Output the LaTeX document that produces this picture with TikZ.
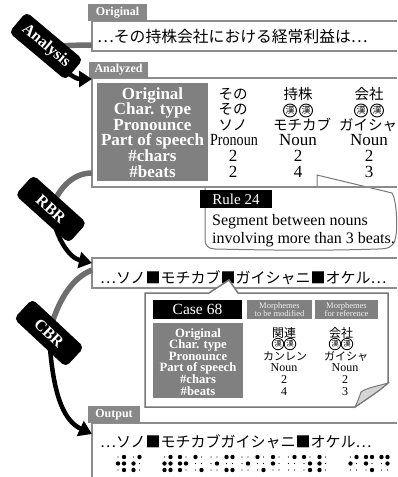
\documentclass[tikz,border=0pt]{standalone}
\usepackage{fontspec}
\setmainfont{Liberation Serif}
\newfontfamily\jpfont{Noto Sans CJK JP}
\usetikzlibrary{arrows.meta}
\definecolor{tabgray}{RGB}{136,136,136}
\definecolor{framegray}{RGB}{140,140,140}
\definecolor{hdrgray}{RGB}{128,128,128}
\definecolor{arcgray}{RGB}{110,110,110}
\definecolor{flapgray}{RGB}{212,212,212}
\definecolor{linegray}{RGB}{120,120,120}
\newcommand\brdot[3]{\ifnum#3=1 \fill[black] (#1,#2) circle (2.2pt);\else\fill[black] (#1,#2) circle (0.7pt);\fi}
\newcommand\brcell[7]{%
  \brdot{118+#1*15.5}{457}{#2}\brdot{118+#1*15.5}{463.5}{#3}\brdot{118+#1*15.5}{470}{#4}%
  \brdot{124+#1*15.5}{457}{#5}\brdot{124+#1*15.5}{463.5}{#6}\brdot{124+#1*15.5}{470}{#7}}
\begin{document}
\begin{tikzpicture}[x=1pt,y=-1pt,
  tab/.style={fill=tabgray,text=white,font=\bfseries\fontsize{12}{12}\selectfont,inner sep=0},
  boxline/.style={draw=framegray,line width=2pt},
  jpline/.style={font=\jpfont\fontsize{15}{15}\selectfont,inner sep=0,anchor=base west},
  hdrA/.style={text=white,font=\bfseries\fontsize{17}{17}\selectfont,inner sep=0,anchor=base},
  valA/.style={font=\fontsize{17}{17}\selectfont,inner sep=0,anchor=base},
  jpA/.style={font=\jpfont\fontsize{14.5}{14.5}\selectfont,inner sep=0,anchor=base},
  kanA/.style={circle,draw,line width=0.9pt,inner sep=0,minimum size=13,font=\jpfont\fontsize{9}{9}\selectfont},
  hdrB/.style={text=white,font=\bfseries\fontsize{12.7}{12.7}\selectfont,inner sep=0,anchor=base},
  valB/.style={font=\fontsize{12}{12}\selectfont,inner sep=0,anchor=base},
  jpB/.style={font=\jpfont\fontsize{12}{12}\selectfont,inner sep=0,anchor=base},
  kataB/.style={font=\jpfont\fontsize{11}{11}\selectfont,inner sep=0,anchor=base},
  kanB/.style={circle,draw,line width=0.8pt,inner sep=0,minimum size=11.5,font=\jpfont\fontsize{7.5}{7.5}\selectfont},
  mhead/.style={fill=hdrgray,text=white!88!gray,font=\fontsize{8.5}{8.5}\selectfont,align=center,inner sep=0,minimum height=19},
  tag/.style={fill=black,text=white,rounded corners=5pt,font=\bfseries\fontsize{16}{16}\selectfont,inner sep=0,minimum height=27},
  gray arc/.style={draw=arcgray,line width=5.5pt},
  black arc/.style={draw=black,line width=4.5pt,-{Triangle[length=13pt,width=16pt]}},
  bubble/.style={draw=linegray,line width=1pt,fill=white},
  bubbleB/.style={draw=linegray,line width=1.5pt,fill=white},
  ]
\useasboundingbox (0,0) rectangle (397,477);
\fill[white] (0,0) rectangle (397,477);

% connection points
\coordinate (oL) at (92,45);
\coordinate (aL) at (92,173);
\coordinate (sL) at (92,270);
\coordinate (aIn) at (92,79);
\coordinate (sIn) at (92,263);
\coordinate (outIn) at (92,434);
\coordinate (tA) at (46,46);
\coordinate (tR) at (51,209);
\coordinate (tC) at (49,333);

% frames
\draw[boxline] (397,21) -- (92,21) -- (92,51) -- (397,51);
\draw[boxline] (397,78) -- (92,78) -- (92,187) -- (397,187);
\draw[boxline] (397,258) -- (92,258) -- (92,288) -- (397,288);
\draw[boxline] (397,423) -- (92,423) -- (92,477);

% tabs
\node[tab,minimum width=59,minimum height=17] (tabO) at (117.5,12.5) {Original};
\node[tab,minimum width=59,minimum height=16] (tabA) at (118.5,70) {Analyzed};
\node[tab,minimum width=52,minimum height=17] (tabOut) at (114,414.5) {Output};

% text lines
\node[jpline,font=\jpfont\fontsize{15.8}{15.8}\selectfont] (orig) at (97,42.5) {…その持株会社における経常利益は…};
\node[jpline] (seg) at (100,283.5) {…ソノ■モチカブ■ガイシャニ■オケル…};
\node[jpline] (outtext) at (100,447) {…ソノ■モチカブガイシャニ■オケル…};

% analyzed table
\fill[hdrgray] (97,83) rectangle (208,181);
\foreach \t [count=\i] in {Original,Char. type,Pronounce,Part of speech,\#chars,\#beats}
  \node[hdrA] (ha\i) at (152.5,{99+(\i-1)*15.6}) {\t};
\node[jpA] (a11) at (233,99) {その};
\node[jpA] (a12) at (233,114.6) {その};
\node[jpA] (a13) at (233,130.2) {ソノ};
\node[valA] (a14) at (234,145.8) {\scalebox{0.83}[1]{Pronoun}};
\node[valA] (a15) at (233,161.4) {2};
\node[valA] (a16) at (233,177) {2};
\node[jpA] (a21) at (298,99) {持株};
\node[kanA] (a22a) at (290,110.5) {漢};
\node[kanA] (a22b) at (306,110.5) {漢};
\node[jpA] (a23) at (302,130.2) {モチカブ};
\node[valA] (a24) at (298,145.8) {Noun};
\node[valA] (a25) at (298,161.4) {2};
\node[valA] (a26) at (298,177) {4};
\node[jpA] (a31) at (369,99) {会社};
\node[kanA] (a32a) at (361,110.5) {漢};
\node[kanA] (a32b) at (377,110.5) {漢};
\node[jpA] (a33) at (368,130.2) {ガイシャ};
\node[valA] (a34) at (369,145.8) {Noun};
\node[valA] (a35) at (369,161.4) {2};
\node[valA] (a36) at (369,177) {3};

% Rule 24 callout
\draw[bubble] (205,187) -- (317,187) -- (317,175) -- (392,193)
  .. controls (397,200) and (398,232) .. (395,240)
  .. controls (393,247) and (388,249) .. (378,249)
  .. controls (320,251) and (260,250) .. (215,249)
  .. controls (208,249) and (205,245) .. (205,240) -- cycle;
\draw[boxline] (92,187) -- (397,187);
\node[fill=black,text=white,font=\fontsize{15}{15}\selectfont,minimum width=72,minimum height=18,inner sep=0] (rule) at (236,199) {Rule 24};
\node[font=\fontsize{16}{16}\selectfont,inner sep=0,anchor=base west] (rt1) at (212,225) {Segment between nouns};
\node[font=\fontsize{16}{16}\selectfont,inner sep=0,anchor=base west] (rt2) at (212,243) {involving more than 3 beats.};

% Case 68 callout
\draw[bubbleB] (145,293) -- (209,293) -- (229,280) -- (238,293) -- (388,293) -- (388,383)
  .. controls (378,392) and (365,400) .. (355,407) -- (145,407) -- cycle;
\draw[draw=linegray,line width=1pt,fill=flapgray] (388,383)
  .. controls (378,386) and (366,388) .. (361,392)
  .. controls (359,398) and (357,403) .. (355,407)
  .. controls (365,400) and (378,392) .. (388,383) -- cycle;
\node[fill=black,text=white,font=\fontsize{15.5}{15.5}\selectfont,minimum width=89,minimum height=19,inner sep=0] (case) at (197.5,309.5) {Case 68};
\node[mhead,minimum width=65] (m1) at (279.5,309.5) {Morphemes\\to be modified};
\node[mhead,minimum width=63] (m2) at (346.5,309.5) {Morphemes\\for reference};
\fill[hdrgray] (153,323) rectangle (243,398);
\foreach \t [count=\i] in {Original,Char. type,Pronounce,Part of speech,\#chars,\#beats}
  \node[hdrB] (hb\i) at (198,{337+(\i-1)*11.6}) {\t};
\node[jpB] (b11) at (284,337) {関連};
\node[kanB] (b12a) at (278,344) {漢};
\node[kanB] (b12b) at (290,344) {漢};
\node[kataB] (b13) at (285,360.2) {カンレン};
\node[valB] (b14) at (284,371.8) {Noun};
\node[valB] (b15) at (284,383.4) {2};
\node[valB] (b16) at (284,395) {4};
\node[jpB] (b21) at (341,337) {会社};
\node[kanB] (b22a) at (335,344) {漢};
\node[kanB] (b22b) at (347,344) {漢};
\node[kataB] (b23) at (346,360.2) {ガイシャ};
\node[valB] (b24) at (345,371.8) {Noun};
\node[valB] (b25) at (345,383.4) {2};
\node[valB] (b26) at (345,395) {3};

% process arcs
\draw[gray arc] (oL) .. controls (75,45) and (60,46) .. (tA);
\draw[gray arc] (aL) .. controls (75,173) and (60,185) .. (tR);
\draw[gray arc] (sL) .. controls (72,278) and (58,300) .. (tC);
\draw[black arc] (tA) .. controls (60,70) and (75,79) .. (aIn);
\draw[black arc] (tR) .. controls (56,240) and (70,258) .. (sIn);
\draw[black arc] (tC) .. controls (52,390) and (62,420) .. (outIn);
\node[tag,rotate=-40,minimum width=74] (tagA) at (tA) {Analysis};
\node[tag,rotate=-42,minimum width=72] (tagR) at (tR) {RBR};
\node[tag,rotate=-43,minimum width=71] (tagC) at (tC) {CBR};

% braille
\brcell{0}{0}{1}{0}{1}{1}{1}
\brcell{1}{0}{1}{1}{1}{0}{0}
\brcell{3}{0}{1}{1}{1}{1}{1}
\brcell{4}{1}{1}{1}{0}{1}{0}
\brcell{5}{1}{0}{0}{0}{0}{1}
\brcell{6}{0}{0}{0}{0}{1}{0}
\brcell{7}{1}{0}{1}{1}{0}{1}
\brcell{8}{0}{0}{0}{0}{1}{0}
\brcell{9}{1}{0}{0}{0}{0}{1}
\brcell{10}{1}{1}{0}{0}{0}{0}
\brcell{11}{0}{0}{0}{1}{0}{0}
\brcell{12}{1}{0}{0}{0}{1}{1}
\brcell{13}{1}{1}{1}{0}{0}{0}
\brcell{15}{0}{1}{0}{1}{0}{0}
\brcell{16}{1}{1}{0}{1}{0}{1}
\brcell{17}{1}{0}{0}{1}{1}{0}
\end{tikzpicture}
\end{document}
